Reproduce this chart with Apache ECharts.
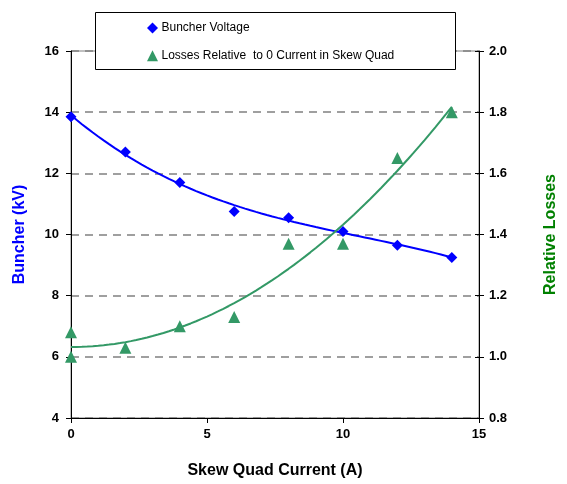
<!DOCTYPE html>
<html>
<head>
<meta charset="utf-8">
<script src="https://cdn.jsdelivr.net/npm/echarts@6/dist/echarts.min.js"></script>
<style>html,body{margin:0;padding:0;background:#fff}#c{width:567px;height:484px}</style>
</head>
<body>
<div id="c"></div>
<script>
// Data
const currentX = [0, 2, 4, 6, 8, 10, 12, 14];
const buncherKV = [13.85, 12.7, 11.7, 10.75, 10.55, 10.1, 9.65, 9.25];
const lossesX = [0, 0, 2, 4, 6, 8, 10, 12, 14];
const lossesRel = [1.0, 1.08, 1.03, 1.10, 1.13, 1.37, 1.37, 1.65, 1.80];
const leftTicks = [4, 6, 8, 10, 12, 14, 16];
const rightTicks = [0.8, 1.0, 1.2, 1.4, 1.6, 1.8, 2.0];
const xTicks = [0, 5, 10, 15];

// Least-squares polynomial trendline (like Excel's polynomial trendline)
function polyFit(xs, ys, order) {
  const n = order + 1;
  const A = [];
  for (let i = 0; i < n; i++) {
    const row = [];
    for (let j = 0; j < n; j++) { let s = 0; xs.forEach(x => s += Math.pow(x, i + j)); row.push(s); }
    let t = 0; xs.forEach((x, k) => t += ys[k] * Math.pow(x, i)); row.push(t);
    A.push(row);
  }
  for (let i = 0; i < n; i++) for (let k = i + 1; k < n; k++) {
    const f = A[k][i] / A[i][i];
    for (let j = i; j <= n; j++) A[k][j] -= f * A[i][j];
  }
  const c = new Array(n).fill(0);
  for (let i = n - 1; i >= 0; i--) { let s = A[i][n]; for (let j = i + 1; j < n; j++) s -= A[i][j] * c[j]; c[i] = s / A[i][i]; }
  return c;
}
function trend(xs, ys, order) {
  const c = polyFit(xs, ys, order);
  const x0 = Math.min(...xs), x1 = Math.max(...xs);
  const pts = [];
  for (let k = 0; k <= 70; k++) {
    const x = x0 + (x1 - x0) * k / 70;
    let y = 0; c.forEach((ci, i) => y += ci * Math.pow(x, i));
    pts.push([x, y]);
  }
  return pts;
}

const font = 'Liberation Sans, Arial, sans-serif';
const chart = echarts.init(document.getElementById('c'));
chart.setOption({
  animation: false,
  backgroundColor: '#fff',
  grid: { left: 71, right: 83, top: 51, bottom: 62, show: true, borderColor: '#808080', borderWidth: 1, backgroundColor: 'transparent' },
  xAxis: {
    type: 'value', min: xTicks[0], max: xTicks[xTicks.length-1], interval: 5,
    name: 'Skew Quad Current (A)', nameLocation: 'middle', nameGap: 45,
    nameTextStyle: { fontFamily: font, fontWeight: 'bold', fontSize: 16, color: '#000' },
    axisLine: { onZero: false, lineStyle: { color: '#000', width: 1 } },
    axisTick: { length: 5, lineStyle: { color: '#000' } },
    axisLabel: { fontFamily: font, fontWeight: 'bold', fontSize: 13, color: '#000', margin: 10 },
    splitLine: { show: false }
  },
  yAxis: [{
    type: 'value', min: leftTicks[0], max: leftTicks[leftTicks.length-1], interval: 2,
    name: 'Buncher (kV)', nameLocation: 'middle', nameGap: 43, nameRotate: 90,
    nameTextStyle: { fontFamily: font, fontWeight: 'bold', fontSize: 16, color: '#0000FF' },
    axisLine: { show: true, lineStyle: { color: '#000', width: 1 } },
    axisTick: { show: true, length: 5, lineStyle: { color: '#000' } },
    axisLabel: { fontFamily: font, fontWeight: 'bold', fontSize: 13, color: '#000', margin: 12 },
    splitLine: { show: true, lineStyle: { color: '#808080', width: 1.5, type: [8, 6] } }
  }, {
    type: 'value', min: rightTicks[0], max: rightTicks[rightTicks.length-1], interval: 0.2,
    position: 'right',
    name: 'Relative Losses', nameLocation: 'middle', nameGap: 64, nameRotate: 90,
    nameTextStyle: { fontFamily: font, fontWeight: 'bold', fontSize: 16, color: '#008000' },
    axisLine: { show: true, lineStyle: { color: '#000', width: 1 } },
    axisTick: { show: true, length: 5, lineStyle: { color: '#000' } },
    axisLabel: { fontFamily: font, fontWeight: 'bold', fontSize: 13, color: '#000', margin: 10,
      formatter: v => v.toFixed(1) },
    splitLine: { show: false }
  }, {
    type: 'value', min: rightTicks[0], max: rightTicks[rightTicks.length-1], interval: 0.2,
    position: 'right',
    axisLine: { show: false },
    axisTick: { show: true, inside: true, length: 4, lineStyle: { color: '#000' } },
    axisLabel: { show: false },
    splitLine: { show: false }
  }],
  legend: {
    left: 142, top: 16, orient: 'vertical', itemGap: 13.7, itemWidth: 11, itemHeight: 11,
    data: [{ name: 'Buncher Voltage', icon: 'diamond' },
           { name: 'Losses Relative  to 0 Current in Skew Quad', icon: 'triangle' }],
    textStyle: { fontFamily: font, fontSize: 12, lineHeight: 14, color: '#000', padding: [0, 0, 0, -1.5] },
    z: 11
  },
  graphic: [{ type: 'rect', left: 95, top: 12, z: 10,
    shape: { width: 360, height: 57 },
    style: { fill: '#fff', stroke: '#000', lineWidth: 1 } }],
  series: [{
    name: 'Buncher Voltage', type: 'scatter', yAxisIndex: 0,
    data: currentX.map((x, i) => [x, buncherKV[i]]),
    symbol: 'diamond', symbolSize: 11, itemStyle: { color: '#0000FF', opacity: 1 }, z: 4
  }, {
    name: 'Buncher trend', type: 'line', yAxisIndex: 0, data: trend(currentX, buncherKV, 3),
    showSymbol: false, smooth: false, lineStyle: { color: '#0000FF', width: 2 }, z: 3, silent: true
  }, {
    name: 'Losses Relative  to 0 Current in Skew Quad', type: 'scatter', yAxisIndex: 1,
    data: lossesX.map((x, i) => [x, lossesRel[i]]),
    symbol: 'triangle', symbolSize: 12, itemStyle: { color: '#339966', opacity: 1 }, z: 4
  }, {
    name: 'Losses trend', type: 'line', yAxisIndex: 1, data: trend(lossesX, lossesRel, 2),
    showSymbol: false, smooth: false, lineStyle: { color: '#339966', width: 2 }, z: 3, silent: true
  }]
});
</script>
</body>
</html>
